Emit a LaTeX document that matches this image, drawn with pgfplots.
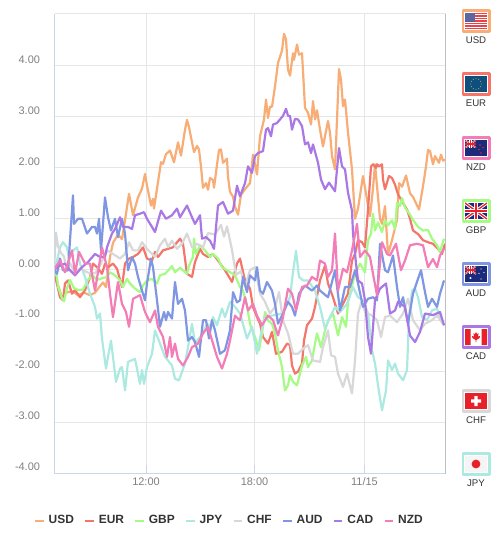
\documentclass[border=0pt]{standalone}
\usepackage{pgfplots}
\usepackage{fontspec}
\setmainfont{Liberation Sans}
\pgfplotsset{compat=1.18}
\definecolor{cUSD}{HTML}{F7AD75}
\definecolor{cEUR}{HTML}{F4766A}
\definecolor{cGBP}{HTML}{A6FB85}
\definecolor{cJPY}{HTML}{ACEAE1}
\definecolor{cCHF}{HTML}{D8D8D8}
\definecolor{cAUD}{HTML}{7F97E3}
\definecolor{cCAD}{HTML}{A978E5}
\definecolor{cNZD}{HTML}{F37DB6}
\definecolor{gridc}{HTML}{E6E6E6}
\definecolor{axisc}{HTML}{CCD6EB}
\definecolor{navy}{HTML}{1B2A7B}
\definecolor{flagred}{HTML}{E8202A}
\definecolor{eublue}{HTML}{0F4F80}
\newcommand{\unionjack}[2]{%
  \begin{scope}
    \clip (0,0) rectangle (#1,#2);
    \fill[navy] (0,0) rectangle (#1,#2);
    \draw[white,line width=#2*0.2bp] (0,0)--(#1,#2) (0,#2)--(#1,0);
    \draw[flagred,line width=#2*0.08bp] (0,0)--(#1,#2) (0,#2)--(#1,0);
    \draw[white,line width=#2*0.3bp] (#1/2,0)--(#1/2,#2) (0,#2/2)--(#1,#2/2);
    \draw[flagred,line width=#2*0.17bp] (#1/2,0)--(#1/2,#2) (0,#2/2)--(#1,#2/2);
  \end{scope}}
\newcommand{\flagbox}[3]{%
  \fill[white] (463,-#1) rectangle (489.5,{-(#1+21)});
  \draw[#2,line width=2.2bp] (463,-#1) rectangle (489.5,{-(#1+21)});
  \node[font=\fontsize{9.7}{10}\selectfont,text=black!80,inner sep=0pt] at (476,{-(#1+29.5)}) {#3};}
\begin{document}
\begin{tikzpicture}[x=1bp,y=1bp,line join=round]
\path[use as bounding box] (0,0) rectangle (500,-546);
\begin{axis}[
  at={(54.5bp,-473.5bp)},anchor=south west,
  scale only axis,width=391bp,height=459.5bp,
  xmin=54.5,xmax=445.5,ymin=-4,ymax=5.02,
  xtick={146,254.5,364.5},xticklabels={12:00,18:00,11/15},
  ytick={-4,-3,-2,-1,0,1,2,3,4},
  yticklabels={-4.00,-3.00,-2.00,-1.00,0.00,1.00,2.00,3.00,4.00},
  grid=major,grid style={gridc,line width=1bp},
  axis line style={draw=none},
  xtick pos=bottom,ytick pos=left,
  xtick style={axisc,line width=1bp},ytick style={draw=none},
  major tick length=9bp,
  tick label style={font=\fontsize{11}{12}\selectfont,text=black!50},
  xticklabel style={yshift=-1bp},
  yticklabel style={yshift=6.5bp,xshift=-11bp},
  legend columns=8,
  legend style={draw=none,fill=none,at={(175.5bp,-47bp)},anchor=center,
    font=\bfseries\fontsize{12}{13}\selectfont,text=black!80,
    /tikz/every even column/.append style={column sep=8.4bp},
    /tikz/every odd column/.append style={column sep=2bp},
    inner sep=0pt,row sep=0pt},
  legend cell align=left,
  legend image code/.code={\draw[#1,line width=2bp](0bp,0bp)--(8.5bp,0bp);},
  every axis plot/.append style={line width=2.2bp,no markers,line join=round},
]
\addplot[cUSD] coordinates {(54,0)(58,-.3)(62,-.55)(66,-.45)(72,-.42)(78,-.5)(84,-.45)(90,-.5)(95,-.45)(100,-.32)(103,-.25)(106,-.34)(110,.25)(113,.53)(118,.69)(122,.6)(125,.97)(129,1.49)(133,1.07)(138,1.42)(142,1.59)(145,1.88)(147,1.65)(151,1.26)(153,1.39)(154,1.2)(157,1.59)(161,2.11)(163,2.08)(166,2.27)(170,2.34)(174,2.11)(178,2.5)(181,2.24)(185,2.75)(187,2.94)(189,2.8)(192,2.5)(194,2.31)(197,2.43)(199,2.36)(201,2.02)(203,1.61)(206,1.7)(208,1.57)(210,1.8)(213,1.76)(214,1.61)(217,2.06)(219,2.35)(221,2.36)(223,2.1)(227,2.18)(228,1.82)(230,1.53)(233,1.43)(235,1.24)(238,1.08)(241,1.47)(245,1.58)(250,1.7)(253,2.26)(257,1.87)(260,2.62)(264,2.95)(266,3.34)(268,2.98)(270,3.2)(272,3.2)(275,3.6)(278,4.06)(282,4.3)(284,4.63)(286,4.52)(288,3.93)(290,3.81)(293,4.25)(294,4.12)(297,4.42)(299,4.22)(302,4.25)(305,3.18)(308,3.08)(311,2.85)(313,3.31)(315,2.95)(317,3.13)(320,2.75)(323,2.42)(328,2.92)(330,2.69)(332,2.23)(335,1.97)(337,2.95)(339,3.94)(341,3.73)(343,3.21)(345,3.34)(348,2.69)(352,1.97)(355,1)(358,1.2)(363,1.84)(367,1.38)(370,1.05)(373,1.6)(375,2.07)(377,1.64)(380,1)(382,.9)(385,1.25)(388,.3)(392,.58)(397,.98)(399,1.7)(402,1.63)(406,1.85)(410,1.5)(413,1.43)(419,1.18)(423,1.64)(426,2.03)(428,2.35)(430,2.33)(433,2.07)(435,2.23)(439,2.1)(441,2.26)(443,2.14)(445,2.16)};
\addlegendentry{USD}
\addplot[cEUR] coordinates {(54,0)(56,-.2)(60,-.54)(63,-.6)(65,-.27)(68,-.21)(72,-.47)(75,-.4)(80,-.54)(85,-.4)(90,-.15)(93,.12)(97,.05)(102,-.08)(105,.12)(108,.05)(113,.12)(117,.02)(122,-.34)(125,.12)(129,.22)(133,.25)(138,.31)(143,.44)(147,.22)(152,.18)(155,.35)(158,.25)(163,.38)(168,.41)(173,.44)(180,.61)(183,.51)(187,-.08)(192,-.14)(195,.15)(200,.41)(203,.31)(208,.25)(213,.31)(218,.18)(225,-.01)(232,-.24)(237,.12)(240,.22)(245,-.21)(250,-.37)(253,-.73)(257,-.93)(260,-1.06)(263,-1.32)(268,-1.45)(272,-1.22)(276,-1.65)(282,-1.61)(287,-1.45)(290,-1.48)(292,-1.88)(295,-2.04)(298,-2)(302,-1.84)(304,-1.39)(307,-1.09)(312,-.96)(315,-.73)(320,-.21)(325,.08)(328,-.27)(333,-.54)(338,-.86)(343,-.67)(348,-.47)(352,.18)(355,.31)(358,.58)(362,.54)(365,.44)(368,1.18)(371,2.03)(373,2.07)(376,2)(377,2.07)(379,2.03)(382,2.07)(383,1.77)(385,1.58)(387,1.71)(389,1.84)(392,1.8)(395,1.67)(398,1.48)(403,1.31)(407,1.18)(410,1)(413,.77)(418,.7)(423,.58)(428,.54)(433,.51)(438,.41)(442,.31)(445,.51)};
\addlegendentry{EUR}
\addplot[cGBP] coordinates {(54,0)(57,-.14)(58,-.33)(62,-.56)(64,-.62)(67,-.36)(70,-.2)(74,-.36)(78,-.4)(83,-.39)(88,-.2)(92,-.1)(97,-.2)(100,-.18)(107,-.14)(110,-.05)(115,-.11)(120,-.21)(123,-.34)(127,-.18)(130,-.27)(135,-.37)(140,-.44)(143,-.31)(147,-.21)(152,-.18)(157,-.27)(160,-.11)(165,-.08)(172,.07)(175,-.05)(180,.04)(187,-.08)(189,.08)(193,.25)(194,.61)(196,.31)(200,.48)(205,.38)(210,.25)(213,.31)(218,.22)(222,.05)(227,-.01)(235,-.11)(240,-.34)(243,-.41)(247,-.7)(250,-1.06)(255,-1.32)(259,-1.58)(262,-1.25)(265,-.83)(268,-1)(272,-1.06)(275,-1.25)(278,-1.58)(282,-1.91)(285,-2.37)(288,-2.27)(290,-2.07)(293,-2.2)(297,-2.27)(302,-1.88)(306,-1.71)(308,-1.91)(312,-1.78)(315,-1.45)(317,-1.25)(321,-1.52)(325,-1.19)(328,-1)(333,-.86)(338,-1.29)(342,-.93)(346,-1.12)(348,-.63)(355,-.08)(360,.12)(365,-.05)(368,.58)(371,.71)(373,1.1)(375,.77)(378,.93)(382,.74)(385,.97)(388,.87)(392,.97)(395,.8)(397,1.31)(400,1.25)(402,1.41)(405,1.22)(410,1.08)(413,.98)(418,.84)(423,.77)(428,.78)(432,.61)(437,.48)(440,.35)(444,.61)};
\addlegendentry{GBP}
\addplot[cJPY] coordinates {(54,0)(57,.18)(60,.44)(63,.54)(67,.44)(69,.22)(73,.38)(77,.44)(80,.12)(85,-.14)(90,-.47)(95,-.73)(97,-.96)(100,-.86)(102,-1.35)(106,-1.94)(108,-1.71)(111,-1.39)(116,-2.2)(120,-1.94)(122,-1.91)(125,-2.37)(128,-1.81)(135,-1.75)(140,-2.24)(142,-1.97)(144,-2.24)(147,-1.91)(152,-1.65)(155,-1.19)(160,-1.45)(165,-1.71)(172,-1.88)(175,-2.14)(179,-2.17)(185,-1.84)(188,-1.52)(192,-1.06)(195,-1.45)(200,-1.32)(203,-1.25)(207,-1.06)(210,-1.12)(213,-.93)(217,-1.09)(222,-.76)(225,-.93)(230,-.63)(235,-.73)(240,-.86)(247,-1.35)(252,-1.12)(257,-1.65)(261,-1.25)(265,-.93)(272,-.9)(282,-.86)(290,-.54)(293,-.05)(296,.37)(299,-.14)(303,-.21)(308,-.21)(315,-.41)(320,-.73)(325,-1.16)(330,-.93)(335,-.73)(340,-.83)(347,-.67)(353,-.34)(358,-.54)(363,-.6)(368,-.86)(372,-1.58)(375,-1.84)(378,-2.27)(382,-2.76)(386,-2.37)(388,-1.78)(392,-1.97)(395,-1.84)(398,-2.04)(403,-2.17)(407,-1.97)(409,-.93)(412,-.41)(415,-.37)(418,-.54)(422,-.93)(427,-.99)(432,-.8)(437,-.76)(440,-.93)(444,-1.09)};
\addlegendentry{JPY}
\addplot[cCHF] coordinates {(54,0)(56,.73)(58,.46)(61,.33)(64,.26)(67,-.03)(70,.13)(75,-.07)(80,.03)(85,-.03)(90,-.07)(95,-.07)(100,.08)(105,.3)(107,.38)(113,.31)(120,.22)(125,.31)(129,.54)(133,.38)(138,.38)(142,.54)(147,.41)(155,.25)(160,.48)(165,.61)(168,.44)(172,.57)(177,.41)(182,.51)(187,.71)(192,.44)(197,.51)(203,.44)(208,.72)(215,.69)(221,.88)(224,.65)(227,.85)(232,.39)(236,-.1)(241,-.03)(245,-.33)(250,-.01)(255,.05)(260,-.47)(265,-.63)(270,-.86)(275,-.73)(279,-.44)(283,-1)(288,-1.25)(293,-1.65)(298,-1.65)(303,-1.55)(308,-1.48)(313,-1.78)(320,-1.81)(323,-1.52)(328,-1.19)(331,-1.68)(335,-1.71)(338,-2.04)(343,-2.3)(347,-2.04)(352,-2.43)(355,-1.78)(358,-.86)(362,-.6)(365,-.83)(372,-.9)(377,-.99)(381,-1.32)(385,-.93)(390,-.9)(397,-1.03)(403,-.86)(408,-.57)(413,-.99)(420,-1.19)(425,-1.06)(432,-.99)(437,-.9)(444,-1.09)};
\addlegendentry{CHF}
\addplot[cAUD] coordinates {(54,0)(57,-.08)(60,.22)(63,-.01)(68,-.01)(73,1.46)(74,.9)(78,1)(82,1)(87,.71)(92,.84)(95,.84)(97,.71)(99,1)(101,.38)(105,1.42)(108,1.03)(111,.77)(115,1)(118,.64)(122,1)(125,.71)(128,-.01)(132,.25)(135,.12)(138,-.14)(142,-.41)(145,-.6)(147,-.27)(151,.22)(153,.05)(157,-.6)(160,-1.12)(164,-.83)(166,-.99)(168,-.83)(172,-.96)(175,-.24)(178,-.67)(182,-.57)(185,-.8)(188,-1.39)(192,-1.32)(195,-1.42)(199,-1.71)(203,-.99)(206,-.99)(209,-1.35)(212,-.99)(215,-1.19)(220,-1.65)(225,-1.58)(230,-1.19)(233,-.44)(237,-.64)(240,-.6)(243,-.14)(247,-.44)(250,-.11)(255,-.21)(257,.05)(260,-.41)(263,-.47)(267,-.24)(272,-.41)(275,-.67)(278,-1.06)(283,-.86)(288,-.63)(292,-.73)(295,-.9)(299,-.47)(305,-.31)(312,-.41)(317,-.31)(320,-.41)(328,-.54)(335,-.01)(340,-.8)(345,-.34)(350,-.34)(355,-.01)(358,-.27)(363,-.73)(368,-.57)(373,-.54)(377,-.6)(380,.51)(385,-.01)(388,-.05)(393,.28)(397,-.34)(400,-.73)(403,-.54)(408,-1.06)(413,-.47)(418,-.18)(421,-.01)(424,-.34)(428,-.73)(432,-.57)(437,-.73)(440,-.47)(444,-.21)};
\addlegendentry{AUD}
\addplot[cCAD] coordinates {(54,0)(60,.08)(65,.12)(70,-.01)(75,-.11)(82,.05)(88,.15)(95,.31)(100,.25)(105,.25)(107,.44)(112,.71)(115,.8)(120,1.03)(123,.84)(128,.84)(132,.8)(135,1.07)(140,1.1)(144,1.13)(147,1)(152,.84)(155,.74)(161,1.16)(166,1)(172,1.07)(177,1.2)(180,1.03)(187,1.26)(192,1.03)(195,.9)(200,1.07)(202,.61)(206,.64)(210,.57)(214,.41)(218,1.26)(223,1.33)(228,1.1)(233,1.16)(237,1.65)(240,1.44)(245,1.7)(248,2.03)(252,1.9)(255,2.23)(258,2.29)(263,2.33)(266,2.75)(268,2.78)(271,2.62)(273,2.85)(277,2.88)(280,2.95)(283,3.02)(286,3.16)(288,3.02)(290,3.02)(292,2.75)(295,2.96)(298,2.95)(302,2.82)(305,2.46)(308,2.5)(311,2.29)(313,2.46)(318,2.1)(321,1.77)(325,1.58)(329,1.71)(335,1.54)(337,1.97)(339,2.39)(342,2.03)(345,1.97)(348,1.51)(352,1.16)(353,.71)(356,.12)(358,-.21)(362,-.27)(365,-.6)(368,-1.32)(371,-1.65)(375,-.6)(380,-.37)(386,-.27)(390,-.86)(395,-.8)(398,-.63)(405,-.73)(410,-1.29)(415,-1.42)(420,-1.22)(425,-.86)(433,-.89)(440,-.83)(444,-1.09)};
\addlegendentry{CAD}
\addplot[cNZD] coordinates {(54,0)(60,.18)(65,-.05)(72,.38)(75,-.08)(79,.35)(85,.12)(90,.12)(95,-.41)(102,.44)(107,.05)(110,-.47)(113,-.93)(118,-.24)(122,-.67)(126,-.83)(129,-1.12)(133,-.57)(140,-.5)(145,-.83)(150,-1.03)(155,-.8)(158,-1.12)(163,-1.32)(167,-1.71)(170,-1.32)(172,-1.71)(175,-1.45)(178,-1.75)(183,-1.88)(188,-1.71)(192,-1.52)(198,-1.45)(203,-1.25)(208,-1.12)(213,-1.45)(217,-1.71)(222,-1.94)(227,-1.65)(230,-1.39)(235,-.9)(238,-.96)(240,-.99)(245,-.54)(248,-.8)(253,-.67)(257,-.9)(262,-1.09)(268,-.9)(273,-.99)(278,-1.29)(283,-.93)(288,-.37)(292,-.47)(296,-.8)(302,-.34)(307,-.31)(312,-.14)(317,-.21)(320,.18)(325,.12)(328,-.14)(332,-.01)(335,.71)(338,-.41)(343,.02)(347,-.05)(352,.38)(357,.9)(360,.25)(365,.38)(370,.25)(373,-.08)(377,-.5)(382,.54)(387,.31)(390,.28)(396,.51)(401,-.01)(405,.18)(410,.48)(417,.51)(423,.48)(428,.05)(433,.21)(437,.05)(440,.28)(444,.41)};
\addlegendentry{NZD}
\end{axis}
% frame
\draw[axisc,line width=1bp] (54.5,-14)--(54.5,-473.5)--(445.5,-473.5);
\draw[gridc,line width=1bp] (54.5,-14)--(445.5,-14);
\draw[black!25,line width=1bp] (445.5,-14)--(445.5,-473.5);
% USD flag
\flagbox{10.5}{cUSD}{USD}
\begin{scope}[shift={(465,-13)},yscale=-1]
  \fill[white] (0,0) rectangle (22,16);
  \foreach \i in {0,2,...,12} {\fill[flagred!85] (0,{\i*16/13}) rectangle (22,{(\i+1)*16/13});}
  \fill[navy!75] (0,0) rectangle (10,8.6);
  \foreach \a in {1,3,5,7,9} \foreach \b in {1,3,5,7} {\fill[white!70!navy] (\a,\b) circle (.4);}
\end{scope}
% EUR flag
\flagbox{73.5}{cEUR}{EUR}
\begin{scope}[shift={(465,-76)},yscale=-1]
  \fill[eublue] (0,0) rectangle (22,16);
\end{scope}
\begin{scope}[shift={(476,-84)}]
  \foreach \a in {0,30,...,330} {\fill[yellow!70!black] (\a:5.4) circle (.55);}
\end{scope}
% NZD flag
\flagbox{137.5}{cNZD}{NZD}
\begin{scope}[shift={(465,-140)},yscale=-1]
  \fill[navy] (0,0) rectangle (22,16);
  \unionjack{11}{8}
  \fill[flagred] (15,5) circle (.9) (18,7.5) circle (.9) (14,9.5) circle (.9) (16,13) circle (.9);
\end{scope}
% GBP flag
\flagbox{200.5}{cGBP}{GBP}
\begin{scope}[shift={(465,-203)},yscale=-1]
  \unionjack{22}{16}
\end{scope}
% AUD flag
\flagbox{263.5}{cAUD}{AUD}
\begin{scope}[shift={(465,-266)},yscale=-1]
  \fill[navy] (0,0) rectangle (22,16);
  \unionjack{11}{8}
  \fill[white] (5.5,12) circle (1.2) (16,3) circle (.7) (19,6.5) circle (.7) (14,7.5) circle (.7) (16,13) circle (.7);
\end{scope}
% CAD flag
\flagbox{326.5}{cCAD}{CAD}
\begin{scope}[shift={(465,-329)},yscale=-1]
  \fill[white] (0,0) rectangle (22,16);
  \fill[flagred] (0,0) rectangle (5.5,16) (16.5,0) rectangle (22,16);
  \fill[flagred] (11,3) -- (12,5) -- (13.6,4.4) -- (13,7.5) -- (15,7) -- (14.6,9) -- (11.4,11) -- (11.4,13) -- (10.6,13) -- (10.6,11) -- (7.4,9) -- (7,7) -- (9,7.5) -- (8.4,4.4) -- (10,5) -- cycle;
\end{scope}
% CHF flag
\flagbox{390.5}{cCHF}{CHF}
\begin{scope}[shift={(465,-393)},yscale=-1]
  \fill[flagred] (0,0) rectangle (22,16);
  \fill[white] (9.3,3) rectangle (12.7,13) (6,6.3) rectangle (16,9.7);
\end{scope}
% JPY flag
\flagbox{453.5}{cJPY}{JPY}
\begin{scope}[shift={(465,-456)},yscale=-1]
  \fill[black!4] (0,0) rectangle (22,16);
  \fill[flagred] (11,8) circle (4.4);
\end{scope}
\end{tikzpicture}
\end{document}
